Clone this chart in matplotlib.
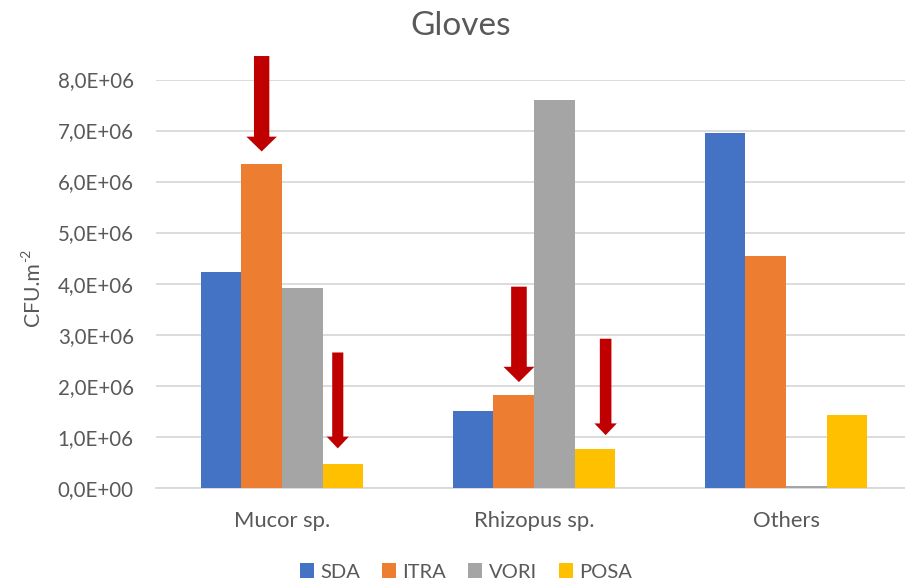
import matplotlib
matplotlib.use("Agg")
import matplotlib.pyplot as plt
from matplotlib.patches import FancyArrow
from matplotlib.ticker import FuncFormatter, MultipleLocator
import numpy as np

plt.rcParams['font.family'] = ['Lato', 'DejaVu Sans']

# Data
categories = ["Mucor sp.", "Rhizopus sp.", "Others"]
series_names = ["SDA", "ITRA", "VORI", "POSA"]
sda = [4.22e6, 1.51e6, 6.95e6]
itra = [6.34e6, 1.82e6, 4.54e6]
vori = [3.91e6, 7.59e6, 0.04e6]
posa = [0.46e6, 0.76e6, 1.42e6]
colors = ["#4472C4", "#ED7D31", "#A5A5A5", "#FFC000"]

# Highlight arrows: (category index, series index, x offset, top value, tip value,
#                    shaft width, head width, head length)
arrows = [
    (0, 1, 0.000, 8.46e6, 6.59e6, 0.061, 0.121, 0.29e6),
    (0, 3, -0.021, 2.65e6, 0.77e6, 0.044, 0.088, 0.23e6),
    (1, 1, 0.021, 3.94e6, 2.07e6, 0.062, 0.123, 0.30e6),
    (1, 3, 0.042, 2.92e6, 1.03e6, 0.046, 0.089, 0.23e6),
]

W, H = 905, 583
fig = plt.figure(figsize=(W / 100, H / 100), dpi=100)
left, right = 156, 912
bottom, top = 487.7, 79.5
ax = fig.add_axes([left / W, 1 - bottom / H, (right - left) / W, (bottom - top) / H])

x = np.arange(len(categories))
bar_w = 0.1615
values = [sda, itra, vori, posa]
for i, (name, vals, c) in enumerate(zip(series_names, values, colors)):
    ax.bar(x + (i - 1.5) * bar_w, vals, width=bar_w, color=c, label=name,
           linewidth=0, zorder=3)

for cat, ser, off, y_top, y_tip, sw, hw, hl in arrows:
    xc = x[cat] + (ser - 1.5) * bar_w + off
    arr = FancyArrow(xc, y_top, 0, y_tip - y_top, width=sw, head_width=hw,
                     head_length=hl, length_includes_head=True,
                     color="#C00000", clip_on=False, zorder=5, linewidth=0)
    ax.add_patch(arr)

ax.set_xlim(-0.5, len(categories) - 0.5)
ax.set_ylim(0, 8e6)
ax.yaxis.set_major_locator(MultipleLocator(1e6))
ax.yaxis.set_major_formatter(FuncFormatter(lambda v, p: f"{v:.1E}".replace('.', ',')))
ax.set_xticks(x)
ax.set_xticklabels(categories)
ax.grid(axis='y', color='#D9D9D9', linewidth=1.3, zorder=0)
ax.set_axisbelow(True)
for s in ['top', 'right', 'left']:
    ax.spines[s].set_visible(False)
ax.spines['bottom'].set_color('#D9D9D9')
ax.spines['bottom'].set_linewidth(1.3)
ax.tick_params(axis='both', length=0, colors='#595959')
ax.tick_params(axis='y', pad=16, labelsize=14.8)
ax.tick_params(axis='x', pad=17, labelsize=15.8)

# Y axis title with superscript exponent
fig.text(33 / W, 1 - 294 / H, "CFU.m", rotation=90,
         ha='center', va='center', fontsize=15.2, color='#595959')
fig.text(26.5 / W, 1 - 255 / H, "-2", rotation=90,
         ha='center', va='center', fontsize=10, color='#595959')
fig.text(461 / W, 1 - 26 / H, "Gloves", ha='center', va='center',
         fontsize=24, color='#595959')

handles, labels = ax.get_legend_handles_labels()
leg = fig.legend(handles, labels, loc='center', bbox_to_anchor=(466 / W, 1 - 572 / H),
                 ncol=4, frameon=False, fontsize=14.5, handlelength=0.7,
                 handleheight=0.7, handletextpad=0.3, columnspacing=1.1,
                 borderaxespad=0)
for t in leg.get_texts():
    t.set_color('#595959')

fig.savefig("out.png", dpi=100)
